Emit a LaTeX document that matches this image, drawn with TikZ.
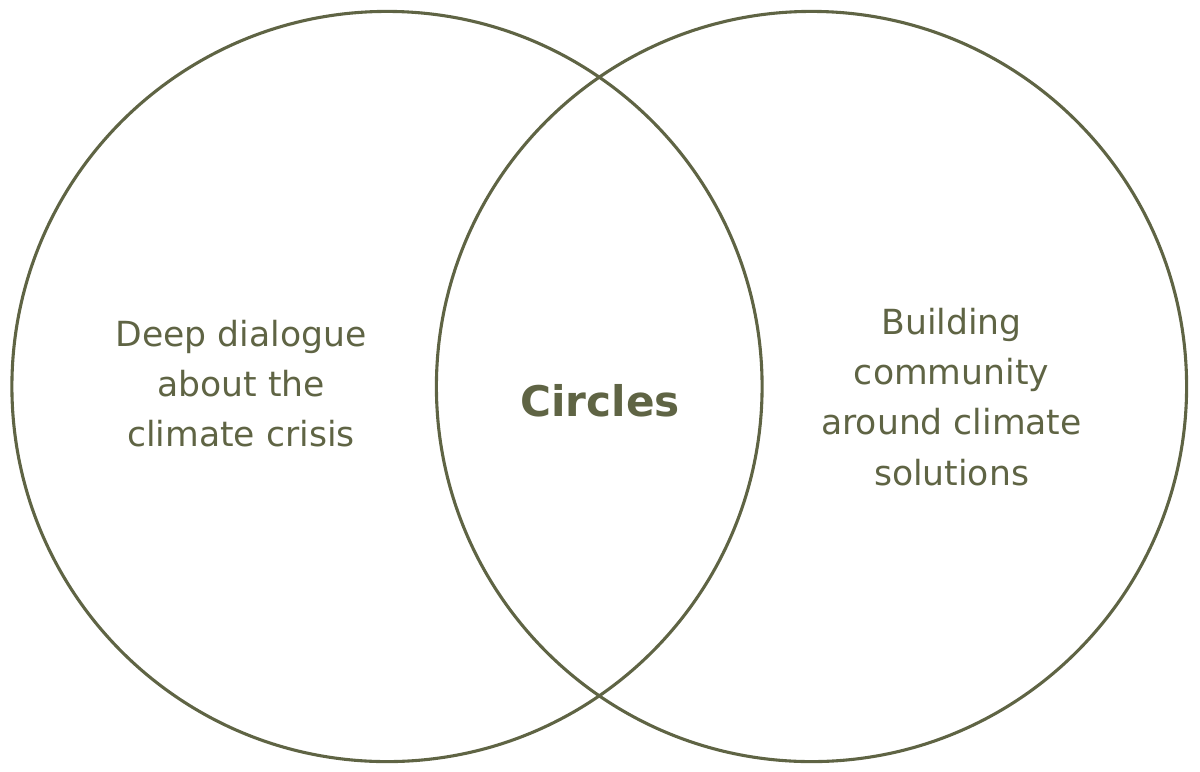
\documentclass[tikz,border=0pt]{standalone}
\usepackage{fontspec}
\setmainfont{DejaVu Sans}
\definecolor{olive}{RGB}{95,100,68}
\tikzset{
  vennset/.style = {circle, draw=olive, line width=2.2pt,
    minimum size=18.75cm, inner sep=0pt},
  setlabel/.style = {align=center, text=olive, inner sep=0pt,
    font=\fontsize{24.6}{35.6}\selectfont},
  midlabel/.style = {setlabel, font=\bfseries\fontsize{30}{32}\selectfont},
}
\begin{document}
\begin{tikzpicture}[x=0.025cm, y=-0.025cm]
  \useasboundingbox (0,0) rectangle (1200,771);
  \node [vennset] (dialogue) at (387,386.5) {};
  \node [vennset] (community) at (811.5,386.5) {};
  \node [setlabel] (dialoguetext) at (241,384) {Deep dialogue\\about the\\climate crisis};
  \node [setlabel] (communitytext) at (951.5,397) {Building\\community\\around climate\\solutions};
  \node [midlabel] (circles) at (600,401) {Circles};
\end{tikzpicture}
\end{document}
